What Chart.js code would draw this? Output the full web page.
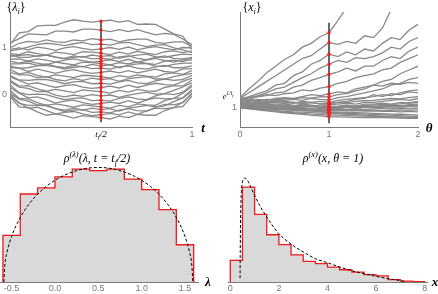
<!DOCTYPE html>
<html>
<head>
<meta charset="utf-8">
<script src="https://cdn.jsdelivr.net/npm/chart.js@4.4.1/dist/chart.umd.min.js"></script>
<style>
  body { margin: 0; background: #fff; }
  #wrap { position: relative; width: 438px; height: 294px; overflow: hidden; }
  canvas { position: absolute; }
  .lb { position: absolute; transform: translate(-50%, -50%); font-family: "Liberation Serif", serif; font-style: italic; color: #000; white-space: nowrap; line-height: 1; }
  .lb sub, .lb sup { font-size: 70%; line-height: 0; }
  .up { font-style: normal; }
</style>
</head>
<body>
<div id="wrap">
  <canvas id="tl" width="219" height="147" style="left:0;top:0"></canvas>
  <canvas id="tr" width="219" height="147" style="left:219px;top:0"></canvas>
  <canvas id="bl" width="219" height="147" style="left:0;top:147px"></canvas>
  <canvas id="br" width="219" height="147" style="left:219px;top:147px"></canvas>

  <span class="lb" style="left:16px;top:7px;font-size:12px"><span class="up">{</span>λ<sub>i</sub><span class="up">}</span></span>
  <span class="lb" style="left:101px;top:134px;font-size:9px">t<sub>f</sub>/2</span>
  <span class="lb" style="left:203px;top:127px;font-size:13px;font-weight:bold">t</span>

  <span class="lb" style="left:252px;top:7px;font-size:12px"><span class="up">{</span>x<sub>i</sub><span class="up">}</span></span>
  <span class="lb" style="left:228px;top:97px;font-size:8px">e<sup>1/t<sub>f</sub></sup></span>
  <span class="lb" style="left:429px;top:127px;font-size:13px;font-weight:bold">θ</span>

  <span class="lb" style="left:97px;top:158px;font-size:12px">ρ<sup>(λ)</sup>(λ, t = t<sub>f</sub>/2)</span>
  <span class="lb" style="left:208px;top:281px;font-size:13px;font-weight:bold">λ</span>

  <span class="lb" style="left:333px;top:158px;font-size:12px">ρ<sup>(x)</sup>(x, θ = 1)</span>
  <span class="lb" style="left:435px;top:281px;font-size:13px;font-weight:bold">x</span>
</div>
<script>
// ---- top left: eigenvalue paths lambda_i(t)
const tGrid = [0, 0.05, 0.1, 0.15, 0.2, 0.25, 0.3, 0.35, 0.4, 0.45, 0.5, 0.55, 0.6, 0.65, 0.7, 0.75, 0.8, 0.85, 0.9, 0.95, 1];
const lambdaPaths = [
  [1.05,1.30,1.33,1.45,1.46,1.46,1.53,1.58,1.55,1.53,1.55,1.57,1.53,1.56,1.48,1.49,1.48,1.38,1.28,1.23,0.95],
  [1.08,1.18,1.28,1.27,1.26,1.34,1.34,1.32,1.38,1.38,1.36,1.33,1.37,1.33,1.37,1.31,1.26,1.29,1.27,1.17,1.05],
  [0.98,1.08,1.12,1.10,1.15,1.11,1.10,1.15,1.13,1.18,1.15,1.17,1.11,1.15,1.17,1.17,1.10,1.08,1.11,1.11,1.02],
  [0.92,0.95,1.00,1.05,1.08,1.06,1.03,1.07,1.10,1.05,1.06,1.04,1.09,1.10,1.05,1.01,1.04,1.05,0.98,0.94,0.88],
  [0.95,0.98,0.94,1.00,0.97,0.93,0.98,1.01,0.97,0.94,0.96,0.99,0.95,1.00,0.94,0.98,1.01,0.97,0.94,0.99,0.98],
  [0.86,0.84,0.90,0.86,0.83,0.89,0.87,0.84,0.90,0.89,0.87,0.84,0.89,0.85,0.91,0.87,0.84,0.90,0.92,0.88,0.92],
  [0.80,0.82,0.84,0.80,0.83,0.78,0.76,0.81,0.78,0.83,0.80,0.82,0.76,0.80,0.83,0.85,0.79,0.78,0.82,0.85,0.84],
  [0.84,0.78,0.78,0.81,0.83,0.79,0.75,0.78,0.80,0.75,0.76,0.74,0.79,0.81,0.76,0.73,0.78,0.81,0.76,0.75,0.78],
  [0.74,0.75,0.70,0.75,0.72,0.68,0.72,0.75,0.71,0.68,0.70,0.73,0.69,0.74,0.68,0.72,0.76,0.71,0.68,0.73,0.72],
  [0.70,0.66,0.70,0.66,0.62,0.68,0.65,0.62,0.68,0.67,0.65,0.62,0.67,0.64,0.69,0.65,0.63,0.70,0.72,0.69,0.76],
  [0.64,0.64,0.66,0.61,0.64,0.59,0.56,0.61,0.58,0.63,0.60,0.62,0.56,0.61,0.64,0.65,0.59,0.59,0.63,0.66,0.66],
  [0.60,0.55,0.56,0.60,0.61,0.58,0.53,0.57,0.59,0.54,0.55,0.53,0.58,0.60,0.55,0.53,0.58,0.61,0.56,0.56,0.60],
  [0.56,0.55,0.48,0.53,0.49,0.44,0.49,0.52,0.47,0.44,0.46,0.49,0.45,0.50,0.45,0.49,0.53,0.48,0.46,0.53,0.54],
  [0.52,0.43,0.46,0.40,0.36,0.41,0.38,0.35,0.40,0.39,0.37,0.34,0.39,0.36,0.41,0.38,0.36,0.43,0.45,0.42,0.50],
  [0.46,0.41,0.41,0.35,0.37,0.31,0.28,0.33,0.29,0.34,0.31,0.33,0.27,0.33,0.35,0.37,0.32,0.32,0.37,0.41,0.44],
  [0.40,0.30,0.29,0.31,0.31,0.27,0.22,0.26,0.27,0.22,0.23,0.21,0.26,0.29,0.24,0.22,0.28,0.32,0.29,0.31,0.40],
  [0.36,0.29,0.21,0.24,0.19,0.14,0.18,0.20,0.15,0.12,0.14,0.17,0.13,0.19,0.14,0.19,0.23,0.20,0.19,0.27,0.34],
  [0.30,0.17,0.18,0.11,0.06,0.10,0.07,0.03,0.09,0.07,0.05,0.02,0.08,0.04,0.10,0.07,0.06,0.14,0.18,0.17,0.30],
  [0.26,0.15,0.12,0.05,0.05,-0.02,-0.06,-0.02,-0.05,-0.01,-0.04,-0.02,-0.07,-0.02,0.01,0.04,0.00,0.01,0.08,0.15,0.24],
  [0.20,0.03,-0.01,0.00,-0.01,-0.07,-0.12,-0.09,-0.08,-0.14,-0.13,-0.15,-0.09,-0.06,-0.10,-0.12,-0.04,0.01,-0.01,0.04,0.20],
  [0.14,0.02,-0.08,-0.06,-0.12,-0.19,-0.15,-0.13,-0.18,-0.22,-0.20,-0.17,-0.20,-0.14,-0.19,-0.13,-0.08,-0.10,-0.09,0.02,0.16],
  [0.08,-0.09,-0.10,-0.18,-0.24,-0.21,-0.24,-0.28,-0.23,-0.25,-0.27,-0.30,-0.24,-0.27,-0.21,-0.23,-0.24,-0.14,-0.09,-0.08,0.10],
  [0.02,-0.11,-0.15,-0.23,-0.23,-0.31,-0.34,-0.30,-0.34,-0.30,-0.33,-0.31,-0.36,-0.30,-0.27,-0.24,-0.27,-0.25,-0.16,-0.08,0.06],
  [0.00,-0.20,-0.24,-0.24,-0.25,-0.31,-0.37,-0.34,-0.33,-0.39,-0.38,-0.40,-0.34,-0.31,-0.35,-0.36,-0.28,-0.22,-0.23,-0.18,0.02],
  [-0.03,-0.18,-0.30,-0.28,-0.35,-0.42,-0.39,-0.37,-0.42,-0.46,-0.44,-0.41,-0.44,-0.38,-0.43,-0.36,-0.30,-0.31,-0.29,-0.17,0.00],
  [-0.05,-0.27,-0.29,-0.38,-0.45,-0.42,-0.46,-0.51,-0.46,-0.48,-0.50,-0.53,-0.47,-0.50,-0.43,-0.45,-0.45,-0.35,-0.29,-0.26,-0.04]
];
const cutT = 0.5;
const cutLambda = [-0.6, 1.55];

// ---- top right: x_i(theta)
const thetaGrid = [0, 0.1, 0.2, 0.3, 0.4, 0.5, 0.6, 0.7, 0.8, 0.9, 1, 1.1, 1.2, 1.3, 1.4, 1.5, 1.6, 1.7, 1.8, 1.9, 2];
const xPaths = [
  [1.55,2.0,2.4,2.85,3.2,3.55,3.8,4.2,4.4,4.75,4.96,5.6,6.3,6.9,7.2,7.4,7.6,7.8,8.0,8.2,8.4],
  [1.5,1.8,2.1,2.4,2.7,3.0,3.3,3.6,3.75,4.1,4.44,4.35,4.5,4.4,4.8,4.7,5.2,6.2,6.8,7.1,7.4],
  [1.45,1.6,1.75,1.9,2.2,2.3,2.7,2.9,3.3,3.5,3.83,3.7,3.95,3.8,4.1,4.0,4.4,4.7,4.6,5.1,5.4],
  [1.4,1.55,1.65,1.8,2.0,2.1,2.35,2.6,2.8,3.1,3.3,3.5,3.4,3.65,3.6,3.7,3.9,4.2,4.1,4.5,4.7],
  [1.35,1.45,1.6,1.65,1.8,1.85,2.1,2.2,2.45,2.6,2.77,2.9,3.1,2.95,3.2,3.2,3.5,3.7,3.6,4.0,4.2],
  [1.5,1.55,1.6,1.7,1.65,1.75,1.8,1.95,1.9,2.05,2.12,2.3,2.4,2.6,2.7,2.8,3.0,3.1,3.4,3.6,3.8],
  [1.3,1.35,1.45,1.4,1.5,1.55,1.5,1.6,1.7,1.65,1.74,1.85,1.8,2.0,2.1,2.2,2.4,2.5,2.8,3.0,3.2],
  [1.25,1.3,1.35,1.3,1.4,1.4,1.45,1.4,1.5,1.45,1.42,1.55,1.6,1.7,1.8,1.9,2.0,2.2,2.3,2.5,2.6],
  [1.2,1.25,1.3,1.25,1.35,1.3,1.25,1.35,1.3,1.35,1.3,1.4,1.45,1.5,1.55,1.6,1.7,1.65,1.8,1.9,1.95],
  [1.4,1.45,1.4,1.35,1.4,1.35,1.3,1.25,1.3,1.2,1.2,1.3,1.35,1.45,1.5,1.7,1.6,1.75,1.7,1.85,1.8],
  [1.15,1.2,1.15,1.2,1.15,1.15,1.1,1.2,1.15,1.1,1.16,1.2,1.25,1.2,1.3,1.3,1.35,1.4,1.45,1.4,1.5],
  [1.1,1.12,1.08,1.1,1.12,1.1,1.05,1.1,1.12,1.05,1.08,1.1,1.15,1.1,1.2,1.2,1.25,1.2,1.3,1.25,1.3],
  [1.05,1.08,1.03,1.06,1.02,1.05,1.0,1.02,0.98,1.0,0.98,1.0,1.05,1.0,1.05,1.05,1.1,1.05,1.1,1.12,1.15],
  [1.2,1.15,1.12,1.1,1.05,1.0,1.02,0.97,0.95,0.97,0.92,0.95,0.9,0.95,0.92,0.95,0.98,0.95,1.0,0.98,1.0],
  [1.0,1.0,0.98,0.95,0.96,0.92,0.9,0.92,0.88,0.87,0.86,0.88,0.85,0.86,0.83,0.85,0.82,0.84,0.8,0.82,0.8],
  [1.1,1.05,1.0,0.98,0.93,0.9,0.88,0.86,0.84,0.82,0.8,0.78,0.77,0.75,0.74,0.72,0.7,0.68,0.67,0.65,0.63],
  [1.02,0.98,0.93,0.9,0.86,0.82,0.8,0.78,0.76,0.73,0.72,0.7,0.67,0.65,0.62,0.6,0.57,0.55,0.52,0.49,0.47],
  [1.05,1.0,0.95,0.9,0.85,0.78,0.75,0.72,0.68,0.66,0.63,0.62,0.6,0.59,0.57,0.56,0.55,0.53,0.52,0.51,0.5],
  [1.0,0.95,0.9,0.85,0.8,0.75,0.7,0.66,0.62,0.58,0.54,0.53,0.52,0.51,0.5,0.5,0.49,0.48,0.47,0.46,0.45],
  [1.3,1.28,1.25,1.22,1.2,1.2,1.15,1.12,1.1,1.08,1.05,1.07,1.05,1.1,1.08,1.1,1.12,1.15,1.12,1.18,1.2],
  [1.28,1.3,1.25,1.3,1.28,1.25,1.3,1.25,1.28,1.22,1.25,1.3,1.28,1.35,1.38,1.4,1.45,1.5,1.48,1.55,1.6],
  [1.18,1.15,1.1,1.08,1.05,1.05,1.0,0.98,0.95,0.92,0.9,0.92,0.88,0.9,0.87,0.88,0.86,0.88,0.9,0.88,0.9],
  [1.08,1.05,1.02,1.0,0.98,0.95,0.97,0.95,0.98,0.96,1.0,0.98,1.02,1.0,1.04,1.05,1.03,1.07,1.05,1.08,1.1],
  [1.35,1.4,1.38,1.45,1.42,1.5,1.48,1.55,1.52,1.6,1.58,1.7,1.75,1.9,2.0,2.2,2.15,2.3,2.25,2.35,2.3],
  [1.12,1.1,1.05,1.0,0.98,0.95,0.9,0.88,0.85,0.8,0.76,0.75,0.72,0.7,0.68,0.66,0.64,0.62,0.6,0.57,0.55],
  [1.25,1.2,1.22,1.15,1.12,1.1,1.08,1.05,1.08,1.05,1.02,1.05,1.1,1.08,1.12,1.15,1.2,1.18,1.22,1.28,1.35]
];
const cutTheta = 1;
const cutX = [0.2, 5.49];

// ---- bottom left: histogram of lambda at t_f/2 and semicircle
const lambdaEdges = [-0.6, -0.4, -0.2, 0, 0.2, 0.4, 0.6, 0.8, 1.0, 1.2, 1.4, 1.6];
const lambdaDensity = [0.238, 0.449, 0.480, 0.536, 0.576, 0.568, 0.576, 0.525, 0.471, 0.369, 0.190];
const semiX = [-0.59, -0.58, -0.55, -0.5, -0.4, -0.3, -0.2, -0.1, 0, 0.1, 0.2, 0.3, 0.4, 0.5, 0.6, 0.7, 0.8, 0.9, 1.0, 1.1, 1.2, 1.3, 1.4, 1.5, 1.55, 1.58, 1.59];
const semiY = [0, 0.079, 0.157, 0.232, 0.329, 0.397, 0.448, 0.488, 0.519, 0.543, 0.561, 0.574, 0.582, 0.584, 0.582, 0.574, 0.561, 0.543, 0.519, 0.488, 0.448, 0.397, 0.329, 0.232, 0.157, 0.079, 0];

// ---- bottom right: histogram of x at theta = 1 and density
const xEdges = [0, 0.5, 1, 1.5, 2, 2.5, 3, 3.5, 4, 4.5, 5, 5.5, 6, 6.5, 7, 7.5, 8];
const xDensity = [0.111, 0.488, 0.348, 0.243, 0.192, 0.140, 0.106, 0.094, 0.077, 0.063, 0.051, 0.038, 0.031, 0.012, 0.004, 0.002];
const rhoX = [0.40, 0.42, 0.45, 0.5, 0.6, 0.7, 0.8, 1.0, 1.25, 1.5, 1.75, 2, 2.5, 3, 3.5, 4, 4.5, 5, 5.5, 6, 6.5, 7, 7.2];
const rhoY = [0.02, 0.30, 0.45, 0.515, 0.534, 0.525, 0.50, 0.445, 0.385, 0.334, 0.288, 0.248, 0.195, 0.155, 0.12, 0.099, 0.077, 0.058, 0.043, 0.029, 0.017, 0.007, 0.002];

// tick values
const tlTicksX = [0.5, 1];
const tlTicksY = [0, 1];
const trTicksX = [0, 1, 2];
const trTicksY = [1];
const blTicksX = [-0.5, 0, 0.5, 1, 1.5];
const brTicksX = [0, 2, 4, 6, 8];

const pathGray = '#888888';
const axisGray = '#7a7a7a';
const tickFont = { family: 'Liberation Sans', size: 9 };

function axis(min, max, ticks, fmt, size, pad, show) {
  return {
    type: 'linear', min: min, max: max, display: show !== false,
    grid: { display: false, drawTicks: false },
    border: { display: true, color: axisGray, width: 1 },
    afterBuildTicks: s => { s.ticks = ticks.map(v => ({ value: v })); },
    afterFit: s => { if (s.isHorizontal()) s.height = size; else s.width = size; },
    ticks: { padding: pad, color: '#777', font: tickFont, autoSkip: false, maxRotation: 0, callback: fmt }
  };
}

function makeChart(id, datasets, x, y, padding) {
  return new Chart(document.getElementById(id), {
    type: 'line',
    data: { datasets: datasets },
    options: {
      responsive: false, animation: false, events: [],
      layout: { padding: padding },
      plugins: { legend: { display: false }, tooltip: { enabled: false } },
      elements: { point: { radius: 0 }, line: { tension: 0 } },
      scales: { x: x, y: y }
    }
  });
}

function pathSets(grid, paths) {
  return paths.map(p => ({
    data: p.map((v, i) => ({ x: grid[i], y: v })),
    borderColor: pathGray, borderWidth: 1.3, pointRadius: 0
  }));
}

function cutSets(grid, paths, at, range) {
  const k = grid.indexOf(at);
  return [
    { data: paths.map(p => ({ x: at, y: p[k] })), showLine: false, pointRadius: 1.7,
      pointBackgroundColor: '#ff1a1a', pointBorderWidth: 0 },
    { data: [{ x: at, y: range[0] }, { x: at, y: range[1] }], borderColor: '#000', borderWidth: 1.2, pointRadius: 0 }
  ];
}

function histSet(edges, dens) {
  const pts = [{ x: edges[0], y: 0 }];
  dens.forEach((d, i) => pts.push({ x: edges[i], y: d }));
  pts.push({ x: edges[edges.length - 1], y: 0 });
  return { data: pts, stepped: true, fill: 'origin', backgroundColor: '#d9d9d9',
           borderColor: '#f01818', borderWidth: 1.3, pointRadius: 0 };
}

function curveSet(xs, ys) {
  return { data: xs.map((v, i) => ({ x: v, y: ys[i] })), borderColor: '#000', borderWidth: 1,
           borderDash: [3, 2], cubicInterpolationMode: 'monotone', pointRadius: 0, fill: false };
}

makeChart('tl',
  cutSets(tGrid, lambdaPaths, cutT, cutLambda).concat(pathSets(tGrid, lambdaPaths)),
  axis(0, 1, tlTicksX, v => (v === 1 ? '1' : ''), 20, 2),
  axis(-0.7, 1.745, tlTicksY, v => String(v), 10, 3),
  { left: 0, right: 27, top: 12, bottom: 0 });

makeChart('tr',
  cutSets(thetaGrid, xPaths, cutTheta, cutX).concat(pathSets(thetaGrid, xPaths)),
  axis(0, 2, trTicksX, v => String(v), 20, 2),
  axis(0, 6.05, trTicksY, v => String(v), 21, 3),
  { left: 0, right: 20, top: 12, bottom: 0 });

makeChart('bl',
  [curveSet(semiX, semiY), histSet(lambdaEdges, lambdaDensity)],
  axis(-0.634, 1.65, blTicksX, v => v.toFixed(1), 12, 1),
  axis(0, 0.607, [], v => '', 0, 0, false),
  { left: 0, right: 21, top: 16, bottom: 0 });

makeChart('br',
  [curveSet(rhoX, rhoY), histSet(xEdges, xDensity)],
  axis(-0.095, 8.095, brTicksX, v => String(v), 12, 1),
  axis(0, 0.576, [], v => '', 0, 0, false),
  { left: 9, right: 11, top: 23, bottom: 0 });
</script>
</body>
</html>
